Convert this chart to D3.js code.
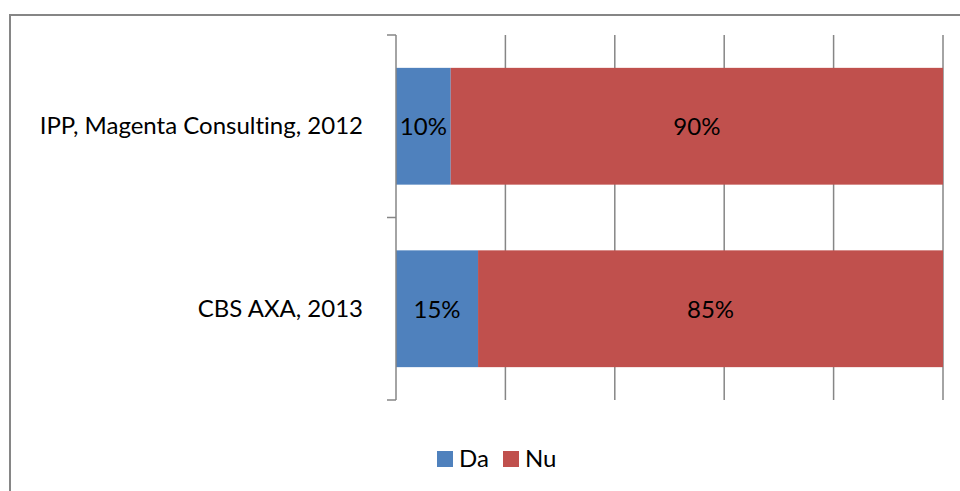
<!DOCTYPE html>
<html lang="en">
<head>
<meta charset="utf-8">
<title>Da / Nu</title>
<style>
body { margin: 0; background: #fff; font-family: Lato, "Open Sans", sans-serif; }
svg text { fill: #000; font-variant-ligatures: none; font-feature-settings: "liga" 0; }
</style>
<script src="https://d3js.org/d3.v7.min.js"></script>
</head>
<body>
<div id="chart"></div>
<script>
// date
const categories = ["IPP, Magenta Consulting, 2012", "CBS AXA, 2013"];
const seriesNames = ["Da", "Nu"];
const daValues = [10, 15];
const nuValues = [90, 85];
const colors = ["#4F81BD", "#C0504D"];
const xTicks = [0, 20, 40, 60, 80, 100];

const width = 960, height = 491;
const fontSize = 24;
const svg = d3.select("#chart").append("svg")
    .attr("width", width)
    .attr("height", height);

// rama graficului
svg.append("rect")
    .attr("x", 10).attr("y", 15)
    .attr("width", 980).attr("height", 500)
    .attr("fill", "none")
    .attr("stroke", "#868686")
    .attr("stroke-width", 2);

const x = d3.scaleLinear().domain([0, 100]).range([396, 943]);
const y = d3.scaleBand().domain(categories).range([35, 400])
    .paddingInner(0.36).paddingOuter(0.18);

// linii de grila verticale
svg.append("g").selectAll("line")
    .data(xTicks.slice(1))
    .join("line")
    .attr("x1", d => x(d)).attr("x2", d => x(d))
    .attr("y1", 35).attr("y2", 400)
    .attr("stroke", "#868686")
    .attr("stroke-width", 1.5);

const rows = categories.map((c, i) => ({ cat: c, vals: [daValues[i], nuValues[i]] }));

rows.forEach(r => {
    let start = 0;
    r.vals.forEach((v, j) => {
        svg.append("rect")
            .attr("x", x(start))
            .attr("y", y(r.cat))
            .attr("width", x(start + v) - x(start))
            .attr("height", y.bandwidth())
            .attr("fill", colors[j]);
        svg.append("text")
            .attr("x", (x(start) + x(start + v)) / 2)
            .attr("y", y(r.cat) + y.bandwidth() / 2 + 9)
            .attr("text-anchor", "middle")
            .attr("font-size", fontSize)
            .text(v + "%");
        start += v;
    });
});

// axa categoriilor
const yAxis = svg.append("g")
    .attr("transform", "translate(396,0)")
    .call(d3.axisLeft(y).tickSize(0).tickPadding(33));
yAxis.select(".domain").remove();
yAxis.selectAll("text")
    .attr("font-size", fontSize)
    .attr("font-family", "Lato, 'Open Sans', sans-serif")
    .attr("dy", "0.33em")
    .attr("fill", "#000");

const tickYs = [35, (y(categories[0]) + y.bandwidth() + y(categories[1])) / 2, 400];
svg.append("line")
    .attr("x1", 396).attr("x2", 396).attr("y1", 35).attr("y2", 400)
    .attr("stroke", "#868686").attr("stroke-width", 1.5);
svg.append("g").selectAll("line")
    .data(tickYs)
    .join("line")
    .attr("x1", 387).attr("x2", 396)
    .attr("y1", d => d).attr("y2", d => d)
    .attr("stroke", "#868686").attr("stroke-width", 1.5);

// legenda
const legend = svg.append("g");
const legX = [437, 503];
seriesNames.forEach((n, i) => {
    legend.append("rect")
        .attr("x", legX[i]).attr("y", 451)
        .attr("width", 16).attr("height", 16)
        .attr("fill", colors[i]);
    legend.append("text")
        .attr("x", legX[i] + 22).attr("y", 467)
        .attr("font-size", fontSize)
        .text(n);
});
</script>
</body>
</html>
